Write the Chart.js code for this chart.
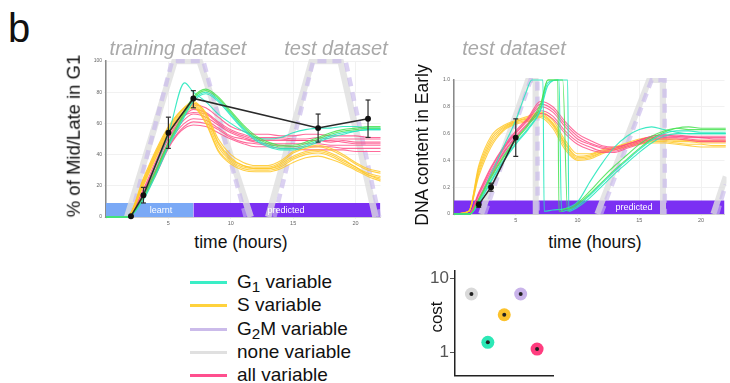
<!DOCTYPE html>
<html>
<head>
<meta charset="utf-8">
<script src="https://cdn.jsdelivr.net/npm/chart.js@4.4.1/dist/chart.umd.min.js"></script>
<style>
  body { margin: 0; background: #fff; font-family: "Liberation Sans", Arial, sans-serif; }
  #page { position: relative; width: 730px; height: 383px; overflow: hidden; background: #fff; }
  canvas { position: absolute; }
  .t { position: absolute; transform: translate(-50%, -50%); white-space: nowrap; line-height: 1; color: #111; }
  .rot { transform: translate(-50%, -50%) rotate(-90deg); }
  .ds { font-size: 20px; font-style: italic; color: #a9a9a9; }
  .band { font-size: 9px; color: #fff; }
  .leg { position: absolute; left: 190px; height: 20px; width: 200px; }
  .leg span.ln { position: absolute; left: 0; top: 9px; width: 37px; height: 3px; }
  .leg span.tx { position: absolute; left: 47px; top: 0; font-size: 19px; line-height: 20px; color: #111; white-space: nowrap; }
  sub { font-size: 0.8em; vertical-align: -0.25em; }
</style>
</head>
<body>
<div id="page">
  <canvas id="chartLeft" width="310" height="177" style="left:76px;top:53px"></canvas>
  <canvas id="chartRight" width="306" height="156" style="left:424px;top:72px"></canvas>
  <canvas id="chartCost" width="140" height="127" style="left:420px;top:260px"></canvas>

  <div class="t" style="left:19px;top:28px;font-size:40px">b</div>
  <div class="t ds" style="left:178px;top:48px">training dataset</div>
  <div class="t ds" style="left:336px;top:48px">test dataset</div>
  <div class="t ds" style="left:514px;top:48px">test dataset</div>

  <div class="t rot" style="left:74px;top:136px;font-size:18.5px">% of Mid/Late in G1</div>
  <div class="t rot" style="left:423px;top:145px;font-size:17.5px">DNA content in Early</div>
  <div class="t" style="left:241px;top:243px;font-size:17.5px">time (hours)</div>
  <div class="t" style="left:595px;top:243px;font-size:17.5px">time (hours)</div>

  <div class="t band" style="left:161px;top:210px">learnt</div>
  <div class="t band" style="left:286px;top:210px">predicted</div>
  <div class="t band" style="left:634px;top:207px">predicted</div>

  <div class="leg" style="top:272px"><span class="ln" style="background:#3aeec6"></span><span class="tx">G<sub>1</sub> variable</span></div>
  <div class="leg" style="top:295px"><span class="ln" style="background:#ffd23c"></span><span class="tx">S variable</span></div>
  <div class="leg" style="top:319px"><span class="ln" style="background:#cbbbea"></span><span class="tx">G<sub>2</sub>M variable</span></div>
  <div class="leg" style="top:342px"><span class="ln" style="background:#e0e0e0"></span><span class="tx">none variable</span></div>
  <div class="leg" style="top:365px"><span class="ln" style="background:#ff4f8e"></span><span class="tx">all variable</span></div>

  <div class="t rot" style="left:436px;top:317px;font-size:17px">cost</div>
</div>

<script>
// ---- left panel: % of Mid/Late in G1 ----
const hoursL = [0, 1.7, 3, 4, 5, 6, 7, 8, 9, 10, 11, 12, 13, 14, 15, 16, 17, 18, 19, 20, 21, 22];

const allVarL = [
  [0, 0, 18, 36, 53, 65, 72, 70, 64, 58, 55, 53, 53, 52, 52, 53, 53, 52, 52, 52, 51, 51],
  [0, 0, 16, 33, 50, 62, 69, 67, 61, 56, 53, 51, 51, 51, 50, 50, 51, 50, 50, 50, 50, 50],
  [0, 0, 15, 31, 48, 60, 66, 64, 59, 54, 51, 49, 49, 49, 49, 49, 49, 48, 49, 48, 48, 48],
  [0, 0, 14, 30, 47, 58, 63, 62, 57, 52, 50, 48, 47, 47, 47, 47, 47, 46, 46, 46, 46, 46],
  [0, 0, 13, 28, 45, 56, 61, 60, 56, 51, 48, 47, 46, 46, 45, 45, 45, 45, 44, 44, 44, 44],
  [0, 0, 12, 27, 44, 55, 59, 58, 54, 50, 47, 45, 45, 44, 44, 43, 43, 43, 43, 42, 42, 42],
  [0, 0, 17, 34, 51, 63, 67, 66, 60, 55, 52, 50, 50, 50, 49, 49, 49, 49, 48, 47, 47, 47]
];
const sVarL = [
  [0, 0, 24, 42, 57, 68, 74, 66, 48, 38, 33, 32, 32, 35, 41, 44, 45, 43, 39, 34, 30, 28],
  [0, 0, 22, 40, 55, 66, 72, 63, 45, 36, 32, 31, 31, 34, 39, 42, 43, 41, 37, 32, 28, 26],
  [0, 0, 21, 39, 54, 65, 71, 61, 43, 35, 31, 30, 30, 32, 37, 40, 41, 39, 35, 31, 27, 25],
  [0, 0, 23, 41, 56, 67, 73, 65, 47, 37, 33, 31, 31, 33, 38, 41, 42, 40, 36, 32, 27, 24],
  [0, 0, 20, 38, 53, 64, 70, 60, 42, 34, 30, 29, 29, 31, 35, 38, 39, 37, 34, 30, 26, 23],
  [0, 0, 25, 43, 58, 68, 73, 67, 50, 40, 35, 33, 33, 36, 42, 45, 46, 44, 40, 35, 31, 29]
];
const g1VarL = [
  [0, 0, 13, 29, 47, 62, 76, 81, 76, 67, 58, 51, 47, 45, 45, 47, 50, 53, 55, 56, 57, 57],
  [0, 0, 12, 28, 46, 61, 75, 80, 75, 66, 57, 50, 46, 44, 44, 46, 49, 52, 54, 55, 56, 56],
  [0, 0, 14, 30, 48, 63, 77, 82, 77, 68, 59, 52, 48, 46, 46, 48, 51, 54, 56, 57, 58, 58],
  [0, 0, 11, 27, 45, 60, 74, 79, 74, 65, 56, 49, 45, 43, 43, 45, 48, 51, 53, 55, 56, 56]
];
const tealHoursL = [0, 1.8, 3, 4, 5, 6.3, 7, 8, 9, 10, 11, 12, 13, 14, 15, 16, 17, 18, 19, 20, 21, 22];
const tealValsL = [0, 0, 15, 33, 53, 86, 80, 74, 66, 60, 55, 51, 50, 51, 54, 56, 57, 57, 58, 58, 57, 57];

const noneHoursL = [1.7, 5.5, 7.5, 11.6, 11.7, 13.0, 16.5, 18.8, 21.6];
const noneValsL = [0, 100, 100, 0, null, 0, 100, 100, 0];
const g2mHoursL = [2.0, 5.3, 7.8, 11.2, 11.3, 13.5, 16.6, 19.2, 21.9];
const g2mValsL = [0, 100, 100, 0, null, 0, 100, 100, 0];

const obsHoursL = [2, 3, 5, 7, 17, 21];
const obsMeanL = [0.5, 14, 54, 76, 57, 63];
const obsLowL = [0, 9, 44, 70, 48, 51];
const obsHighL = [1, 19, 64, 81, 66, 75];

const learntHours = [0, 7];
const predictedHoursL = [7, 22];
const bandTopL = 9;

// ---- right panel: DNA content in Early ----
const hoursR = [0, 1.2, 2, 3, 4, 5, 6, 7, 8, 9, 10, 11, 12, 13, 14, 15, 16, 17, 18, 19, 20, 21, 22];

const sVarR = [
  [0, 0.02, 0.34, 0.56, 0.65, 0.69, 0.72, 0.75, 0.68, 0.53, 0.43, 0.44, 0.47, 0.49, 0.52, 0.54, 0.55, 0.55, 0.54, 0.54, 0.53, 0.53, 0.53],
  [0, 0.02, 0.30, 0.52, 0.63, 0.68, 0.70, 0.73, 0.66, 0.50, 0.41, 0.42, 0.46, 0.48, 0.51, 0.53, 0.54, 0.54, 0.53, 0.52, 0.52, 0.51, 0.51],
  [0, 0.02, 0.28, 0.50, 0.62, 0.67, 0.69, 0.72, 0.64, 0.48, 0.40, 0.41, 0.45, 0.48, 0.50, 0.52, 0.53, 0.53, 0.52, 0.51, 0.50, 0.50, 0.50],
  [0, 0.02, 0.32, 0.54, 0.64, 0.69, 0.71, 0.74, 0.67, 0.52, 0.42, 0.43, 0.46, 0.49, 0.52, 0.55, 0.56, 0.56, 0.55, 0.55, 0.54, 0.54, 0.54],
  [0, 0.02, 0.36, 0.58, 0.66, 0.70, 0.73, 0.76, 0.70, 0.55, 0.45, 0.45, 0.48, 0.50, 0.53, 0.56, 0.57, 0.56, 0.56, 0.55, 0.55, 0.55, 0.55]
];
const allVarR = [
  [0, 0, 0.16, 0.35, 0.50, 0.62, 0.72, 0.84, 0.80, 0.69, 0.60, 0.55, 0.51, 0.50, 0.52, 0.55, 0.58, 0.59, 0.58, 0.58, 0.57, 0.57, 0.57],
  [0, 0, 0.14, 0.32, 0.48, 0.60, 0.70, 0.80, 0.76, 0.65, 0.56, 0.52, 0.49, 0.48, 0.51, 0.54, 0.57, 0.58, 0.58, 0.57, 0.57, 0.56, 0.56],
  [0, 0, 0.12, 0.30, 0.46, 0.58, 0.68, 0.77, 0.73, 0.62, 0.54, 0.50, 0.47, 0.47, 0.50, 0.53, 0.56, 0.57, 0.57, 0.56, 0.55, 0.55, 0.55],
  [0, 0, 0.15, 0.34, 0.49, 0.61, 0.71, 0.82, 0.78, 0.67, 0.58, 0.53, 0.50, 0.49, 0.52, 0.55, 0.58, 0.59, 0.59, 0.58, 0.58, 0.58, 0.58],
  [0, 0, 0.11, 0.29, 0.45, 0.57, 0.67, 0.75, 0.71, 0.60, 0.52, 0.48, 0.46, 0.46, 0.49, 0.52, 0.55, 0.56, 0.56, 0.55, 0.54, 0.54, 0.54]
];
const hoursG = [0, 1.3, 2, 3, 4, 5, 6, 7, 7.6, 8.4, 8.5, 8.7, 8.8, 9.2, 9.3, 10, 11, 12, 13, 14, 15, 16, 17, 18, 19, 20, 21, 22];
const g1VarR = [
  [0, 0, 0.10, 0.27, 0.42, 0.55, 0.66, 0.80, 1, 1, 0.02, 0.02, 0.03, 0.04, 0.04, 0.08, 0.17, 0.27, 0.36, 0.44, 0.52, 0.58, 0.62, 0.64, 0.63, 0.63, 0.63, 0.63],
  [0, 0, 0.09, 0.25, 0.40, 0.53, 0.64, 0.78, 0.98, 1, 1, 0.02, 0.02, 0.03, 0.03, 0.06, 0.14, 0.23, 0.32, 0.40, 0.48, 0.55, 0.60, 0.62, 0.62, 0.61, 0.61, 0.61],
  [0, 0, 0.11, 0.28, 0.43, 0.56, 0.67, 0.82, 1, 1, 1, 1, 1, 0.02, 0.03, 0.07, 0.15, 0.24, 0.33, 0.41, 0.49, 0.56, 0.61, 0.64, 0.65, 0.64, 0.64, 0.64],
  [0, 0, 0.08, 0.24, 0.39, 0.52, 0.63, 0.77, 0.96, 1, 1, 1, 1, 1, 0.02, 0.05, 0.12, 0.21, 0.30, 0.38, 0.46, 0.53, 0.58, 0.60, 0.60, 0.60, 0.60, 0.60]
];
const tealHoursR = [0, 1.3, 2, 3, 4, 5, 5.8, 6.3, 7.2, 7.3, 8, 9, 10, 11, 12, 13, 14, 15, 16, 17, 18, 19, 20, 21, 22];
const tealValsR = [0, 0, 0.1, 0.3, 0.5, 0.7, 0.9, 1, 1, 0.02, 0.03, 0.04, 0.09, 0.24, 0.38, 0.5, 0.58, 0.63, 0.65, 0.63, 0.61, 0.6, 0.6, 0.6, 0.6];

const noneHoursR = [2.2, 6.0, 6.6, 6.62, 6.7, 11.6, 15.8, 16.9, 16.92, 17.0, 21.0, 22];
const noneValsR = [0, 1, 1, 0, null, 0, 1, 1, 0, null, 0, 0.28];
const g2mHoursR = [2.5, 6.2, 6.75, 6.77, 6.8, 11.9, 16.0, 17.05, 17.07, 17.1, 21.3, 22];
const g2mValsR = [0, 1, 1, 0, null, 0, 1, 1, 0, null, 0, 0.22];

const obsHoursR = [2, 3, 5];
const obsMeanR = [0.07, 0.2, 0.57];
const obsLowR = [0.05, 0.17, 0.43];
const obsHighR = [0.09, 0.23, 0.71];

const predictedHoursR = [0, 22];
const bandTopR = 0.1;

// x tick labels shown on both time axes
const timeTicks = [0, 5, 10, 15, 20];

// ---- cost panel ----
const costModels = ['none', 'G1', 'S', 'G2M', 'all'];
const costPos = [1, 2, 3, 4, 5];
const costValues = [6.1, 1.36, 3.2, 6.1, 1.1];
const costColors = ['#d9d9d9', '#2de8b6', '#fcc22c', '#c9b3ea', '#ff3d7f'];
const costTicks = [1, 10];

// colours
const C_TEAL = 'rgba(40, 232, 190, 0.9)';
const C_GREEN = 'rgba(70, 226, 80, 0.85)';
const C_YELLOW = 'rgba(255, 200, 40, 0.85)';
const C_PINK = 'rgba(255, 70, 130, 0.8)';
const C_NONE = 'rgba(222, 222, 222, 0.8)';
const C_G2M = 'rgba(200, 184, 235, 0.65)';

function pts(hours, vals) {
  return hours.map((h, i) => ({ x: h, y: vals[i] }));
}

function curve(hours, vals, color, order) {
  return {
    data: pts(hours, vals),
    borderColor: color,
    borderWidth: 1.1,
    pointRadius: 0,
    cubicInterpolationMode: 'monotone',
    fill: false,
    order: order,
    clip: false
  };
}

function shape(hours, vals, color, width, dash, order) {
  return {
    data: pts(hours, vals),
    borderColor: color,
    borderWidth: width,
    borderDash: dash,
    pointRadius: 0,
    tension: 0,
    spanGaps: false,
    fill: false,
    order: order,
    clip: 2
  };
}

function band(hours, top, color) {
  return {
    data: hours.map(h => ({ x: h, y: top })),
    borderWidth: 0,
    borderColor: color,
    backgroundColor: color,
    pointRadius: 0,
    tension: 0,
    fill: 'origin',
    order: 10
  };
}

function observed(hours, mean, lo, hi) {
  const sets = [{
    data: pts(hours, mean),
    borderColor: '#2a2a2a',
    borderWidth: 1.5,
    pointRadius: 2.2,
    pointBackgroundColor: '#111',
    pointBorderColor: '#111',
    tension: 0,
    fill: false,
    order: 0,
    clip: false
  }];
  hours.forEach((h, i) => {
    sets.push({
      data: [{ x: h, y: lo[i] }, { x: h, y: hi[i] }],
      borderColor: '#2a2a2a',
      borderWidth: 1.2,
      pointStyle: 'line',
      pointRadius: 2.5,
      pointBorderColor: '#2a2a2a',
      pointBorderWidth: 1.2,
      tension: 0,
      fill: false,
      order: 0,
      clip: false
    });
  });
  return sets;
}

function axes(yMax, yStep, xMax, yWidth, xHeight) {
  return {
    x: {
      type: 'linear', min: 0, max: xMax,
      grid: { color: '#f1f1f1', tickLength: 2 },
      border: { color: '#cfcfcf', width: 1 },
      afterBuildTicks: s => { s.ticks = timeTicks.map(v => ({ value: v })); },
      ticks: {
        padding: 1, color: '#666', font: { size: 5.5 },
        callback: v => (v === 0 ? '' : v)
      },
      afterFit: s => { s.height = xHeight; }
    },
    y: {
      min: 0, max: yMax,
      grid: { color: '#f1f1f1', tickLength: 2 },
      border: { color: '#8a8a8a', width: 1.5 },
      ticks: { stepSize: yStep, padding: 2, color: '#666', font: { size: 5 } },
      afterFit: s => { s.width = yWidth; }
    }
  };
}

const baseOptions = {
  responsive: false,
  animation: false,
  events: [],
  plugins: { legend: { display: false }, tooltip: { enabled: false } }
};

// left chart
const leftSets = [];
leftSets.push(...observed(obsHoursL, obsMeanL, obsLowL, obsHighL));
g1VarL.forEach((v, i) => leftSets.push(curve(hoursL, v, i % 2 ? C_TEAL : C_GREEN, 1)));
leftSets.push(curve(tealHoursL, tealValsL, C_TEAL, 1));
sVarL.forEach(v => leftSets.push(curve(hoursL, v, C_YELLOW, 2)));
allVarL.forEach(v => leftSets.push(curve(hoursL, v, C_PINK, 3)));
leftSets.push(shape(g2mHoursL, g2mValsL, C_G2M, 4.5, [9, 6], 5));
leftSets.push(shape(noneHoursL, noneValsL, C_NONE, 6.5, [], 6));
leftSets.push(band(learntHours, bandTopL, '#7aa9f6'));
leftSets.push(band(predictedHoursL, bandTopL, '#7b30f3'));

new Chart(document.getElementById('chartLeft'), {
  type: 'line',
  data: { datasets: leftSets },
  options: Object.assign({}, baseOptions, {
    layout: { padding: { top: 8, right: 3, left: 0, bottom: 0 } },
    scales: axes(100, 20, 22, 30, 13)
  })
});

// right chart
const rightSets = [];
rightSets.push(...observed(obsHoursR, obsMeanR, obsLowR, obsHighR));
g1VarR.forEach((v, i) => rightSets.push(curve(hoursG, v, i % 2 ? C_TEAL : C_GREEN, 1)));
rightSets.push(curve(tealHoursR, tealValsR, C_TEAL, 1));
allVarR.forEach(v => rightSets.push(curve(hoursR, v, C_PINK, 2)));
sVarR.forEach(v => rightSets.push(curve(hoursR, v, C_YELLOW, 3)));
rightSets.push(shape(g2mHoursR, g2mValsR, C_G2M, 4.5, [9, 6], 5));
rightSets.push(shape(noneHoursR, noneValsR, C_NONE, 6, [], 6));
rightSets.push(band(predictedHoursR, bandTopR, '#7b30f3'));

new Chart(document.getElementById('chartRight'), {
  type: 'line',
  data: { datasets: rightSets },
  options: Object.assign({}, baseOptions, {
    layout: { padding: { top: 8, right: 0, left: 0, bottom: 0 } },
    scales: axes(1, 0.2, 21.9, 30, 14)
  })
});

// cost chart
new Chart(document.getElementById('chartCost'), {
  type: 'scatter',
  data: {
    labels: costModels,
    datasets: [
      {
        data: pts(costPos, costValues),
        pointRadius: 2,
        pointBackgroundColor: '#222',
        pointBorderWidth: 0,
        order: 0
      },
      {
        data: pts(costPos, costValues),
        pointRadius: 6.5,
        pointBackgroundColor: costColors,
        pointBorderWidth: 0,
        order: 1
      }
    ]
  },
  options: Object.assign({}, baseOptions, {
    layout: { padding: { top: 8, right: 6, left: 0, bottom: 0 } },
    scales: {
      x: {
        type: 'linear', min: 0, max: 6,
        grid: { display: false },
        border: { color: '#222', width: 1.5 },
        ticks: { display: false },
        afterFit: s => { s.height = 7; }
      },
      y: {
        type: 'logarithmic', min: 0.48, max: 12.4,
        grid: { drawOnChartArea: false, tickLength: 5, color: '#555' },
        border: { color: '#222', width: 1.5 },
        afterBuildTicks: s => { s.ticks = costTicks.map(v => ({ value: v })); },
        ticks: { color: '#555', font: { size: 17 }, padding: 1, callback: v => String(v) },
        afterFit: s => { s.width = 35; }
      }
    }
  })
});
</script>
</body>
</html>
